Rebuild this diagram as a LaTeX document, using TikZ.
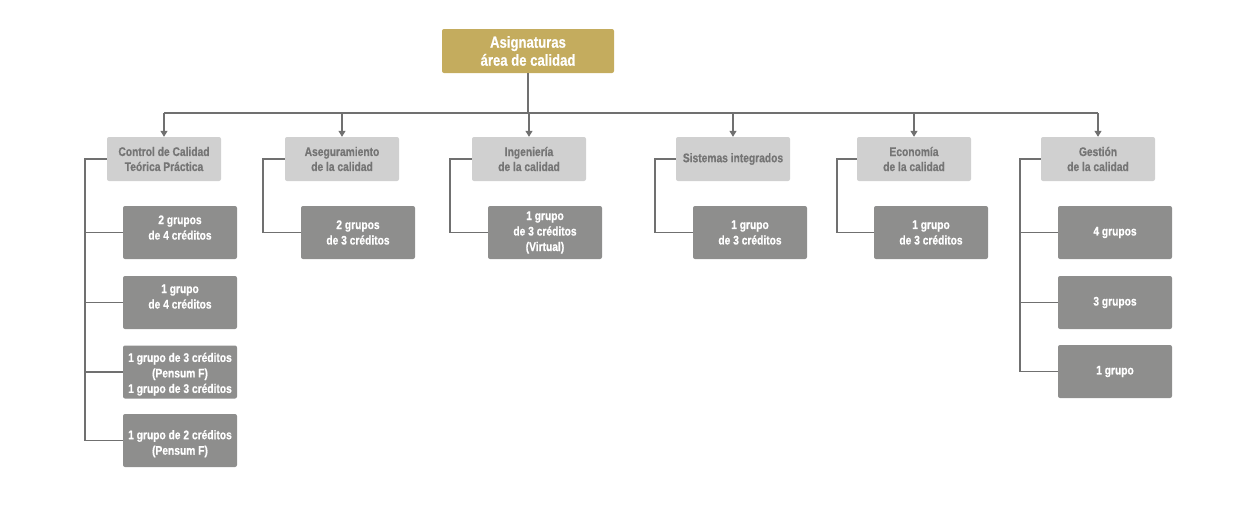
\documentclass[tikz,border=0pt]{standalone}
\usepackage{fontspec}
\setmainfont{Liberation Sans}[FakeStretch=0.82,BoldFont={Liberation Sans Bold},BoldFeatures={FakeStretch=0.82,FakeBold=0.6}]
\usetikzlibrary{arrows.meta}
\definecolor{gold}{HTML}{C4AC5E}
\definecolor{lightbox}{HTML}{D0D0D0}
\definecolor{darkbox}{HTML}{8E8E8D}
\definecolor{cattext}{HTML}{757575}
\definecolor{linec}{HTML}{707070}
\tikzset{
  topbox/.style={fill=gold, rounded corners=2pt, minimum width=172pt, minimum height=44pt, text=white, font=\fontsize{16}{18}\selectfont\bfseries, align=center, inner sep=0pt},
  catbox/.style={fill=lightbox, rounded corners=2pt, minimum width=114pt, minimum height=44pt, text=cattext, font=\fontsize{12.5}{15}\selectfont\bfseries, align=center, inner sep=0pt},
  kidbox/.style={fill=darkbox, rounded corners=2pt, minimum width=114pt, minimum height=53pt, text=white, font=\fontsize{12.5}{15.5}\selectfont\bfseries, align=center, inner sep=0pt},
  conn/.style={draw=linec, line width=1.1pt},
  arr/.style={conn, -{Triangle[length=6pt,width=7pt]}}
}
\begin{document}
\begin{tikzpicture}[x=1pt,y=-1pt]
\useasboundingbox (0,0) rectangle (1250,507);
\node[topbox] (top) at (528,51) {Asignaturas\\área de calidad};
\node[catbox] (c1) at (164,159) {Control de Calidad\\Teórica Práctica};
\node[catbox] (c2) at (342,159) {Aseguramiento\\de la calidad};
\node[catbox] (c3) at (529,159) {Ingeniería\\de la calidad};
\node[catbox] (c4) at (733,159) {Sistemas integrados};
\node[catbox] (c5) at (914,159) {Economía\\de la calidad};
\node[catbox] (c6) at (1098,159) {Gestión\\de la calidad};
\coordinate (hub) at (528,113);
\coordinate (hl) at (164,113);
\coordinate (hr) at (1098,113);
\draw[conn] (top.south) -- (hub);
\draw[conn] (hl) -- (hr);
\foreach \c in {c1,c2,c3,c4,c5,c6} {
  \draw[arr] (hub -| \c.north) -- (\c.north);
}
% children
\node[kidbox] (k11) at (180,232.5) {2 grupos\\de 4 créditos\rule[-10pt]{0pt}{0pt}};
\node[kidbox] (k12) at (180,302.5) {1 grupo\\de 4 créditos\rule[-12pt]{0pt}{0pt}};
\node[kidbox] (k13) at (180,372) {\rule{0pt}{13.5pt}1 grupo de 3 créditos\\(Pensum F)\\1 grupo de 3 créditos};
\node[kidbox] (k14) at (180,440.5) {\rule{0pt}{15.5pt}1 grupo de 2 créditos\\(Pensum F)};
\node[kidbox] (k21) at (358,232.5) {2 grupos\\de 3 créditos};
\node[kidbox] (k31) at (545,232.5) {1 grupo\\de 3 créditos\\(Virtual)};
\node[kidbox] (k41) at (750,232.5) {1 grupo\\de 3 créditos};
\node[kidbox] (k51) at (931,232.5) {1 grupo\\de 3 créditos};
\node[kidbox] (k61) at (1115,232.5) {4 grupos};
\node[kidbox] (k62) at (1115,302.5) {3 grupos};
\node[kidbox] (k63) at (1115,371.5) {1 grupo};
% elbows
\coordinate (t1) at (85,159);
\coordinate (t2) at (263,159);
\coordinate (t3) at (450,159);
\coordinate (t4) at (655,159);
\coordinate (t5) at (837,159);
\coordinate (t6) at (1020,159);
\draw[conn] (c1.west) -- (t1) |- (k14.west);
\foreach \k in {k11,k12,k13} { \draw[conn] (t1 |- \k.west) -- (\k.west); }
\draw[conn] (c2.west) -- (t2) |- (k21.west);
\draw[conn] (c3.west) -- (t3) |- (k31.west);
\draw[conn] (c4.west) -- (t4) |- (k41.west);
\draw[conn] (c5.west) -- (t5) |- (k51.west);
\draw[conn] (c6.west) -- (t6) |- (k63.west);
\foreach \k in {k61,k62} { \draw[conn] (t6 |- \k.west) -- (\k.west); }
\end{tikzpicture}
\end{document}
